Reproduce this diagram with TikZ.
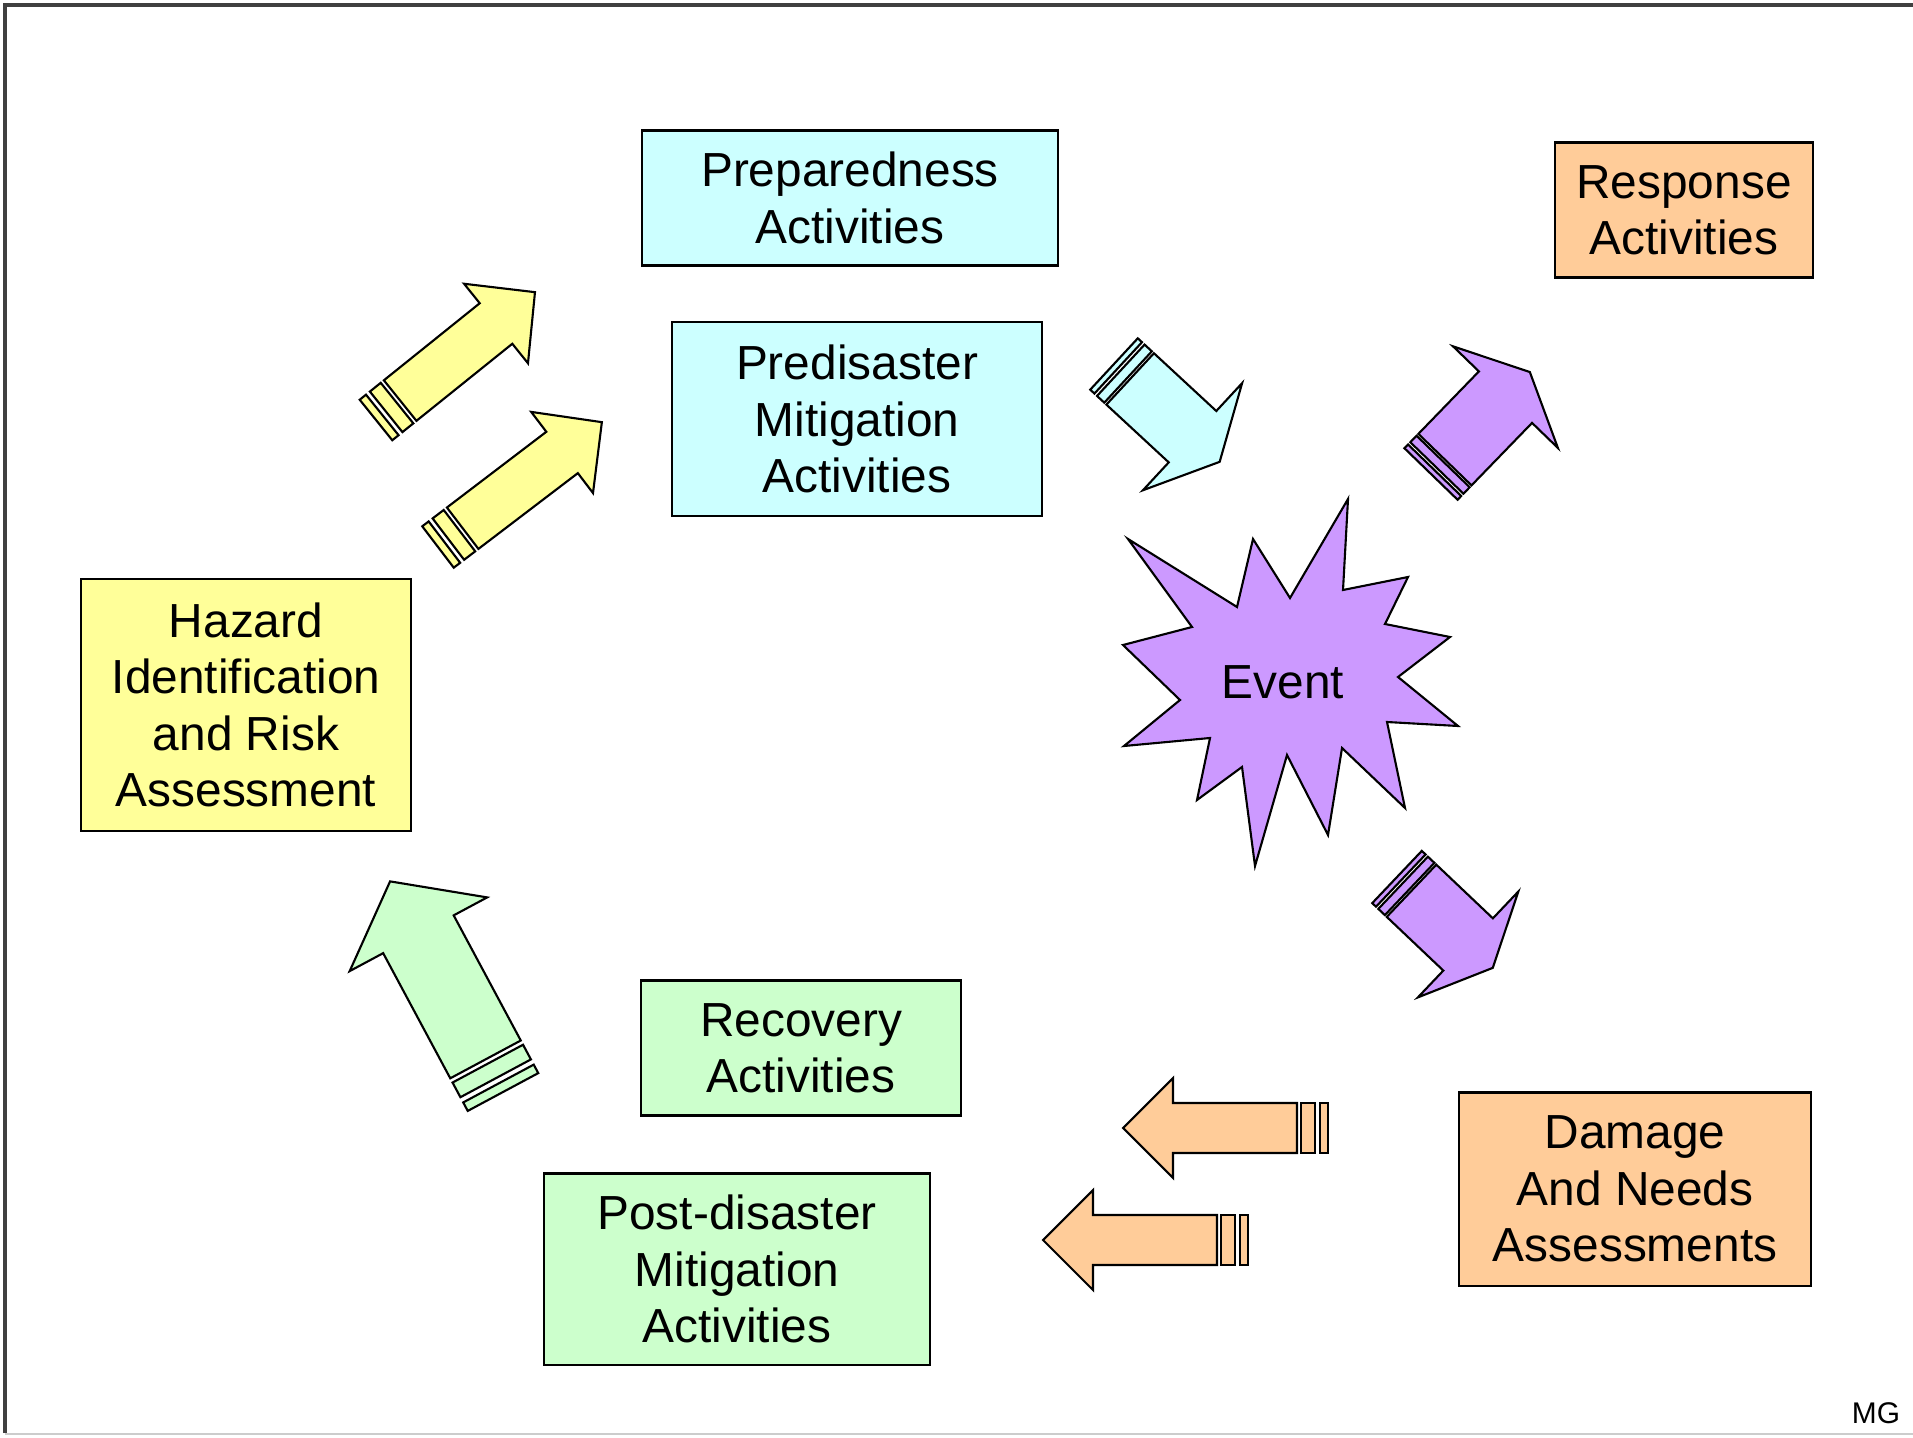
\documentclass[tikz,border=0pt]{standalone}
\usepackage{fontspec}
\setmainfont{Liberation Sans}
\definecolor{hazardyellow}{HTML}{FFFF99}
\definecolor{prepcyan}{HTML}{CCFFFF}
\definecolor{resporange}{HTML}{FFCC99}
\definecolor{recgreen}{HTML}{CCFFCC}
\definecolor{eventpurple}{HTML}{CC99FF}
\tikzset{
  activity/.style={draw, line width=0.6pt, align=center, inner sep=0pt,
    font=\fontsize{13.6}{16}\selectfont},
  shapeline/.style={draw=black, line width=0.6pt}
}
% striped block arrow: colour, tail, angle, length, shaft half, head half, head length, stripe zone
\newcommand{\stripedarrow}[8]{%
  \begin{scope}[shift={#2}, rotate=#3]
    \filldraw[shapeline, fill=#1] (#8,-#5) -- ({#4-#7},-#5) -- ({#4-#7},-#6) -- (#4,0)
      -- ({#4-#7},#6) -- ({#4-#7},#5) -- (#8,#5) -- cycle;
    \filldraw[shapeline, fill=#1] ({0.42*#8},-#5) rectangle ({0.87*#8},#5);
    \filldraw[shapeline, fill=#1] (0,-#5) rectangle ({0.26*#8},#5);
  \end{scope}}
\begin{document}
\begin{tikzpicture}[x=0.01cm, y=-0.01cm]
      \useasboundingbox (0,0) rectangle (1913,1437);
      \fill[white] (0,0) rectangle (1913,1437);
      \draw[line width=1.2pt, black!75] (5,1433) -- (5,5) -- (1913,5);
      \draw[line width=0.8pt, black!20] (5,1434) -- (1913,1434);
      % activity boxes
      \node[activity, fill=prepcyan, minimum width=4.16cm, minimum height=1.35cm]
        (prep) at (850,198) {Preparedness\\Activities};
      \node[activity, fill=prepcyan, minimum width=3.69cm, minimum height=1.93cm]
        (premit) at (857,419) {Predisaster\\Mitigation\\Activities};
      \node[activity, fill=resporange, minimum width=2.58cm, minimum height=1.35cm]
        (resp) at (1684,210) {Response\\Activities};
      \node[activity, fill=hazardyellow, minimum width=3.30cm, minimum height=2.51cm]
        (hazard) at (246,705) {Hazard\\Identification\\and Risk\\Assessment};
      \node[activity, fill=recgreen, minimum width=3.19cm, minimum height=1.35cm]
        (recov) at (801,1048) {Recovery\\Activities};
      \node[activity, fill=recgreen, minimum width=3.85cm, minimum height=1.91cm]
        (postmit) at (737,1269) {Post-disaster\\Mitigation\\Activities};
      \node[activity, fill=resporange, minimum width=3.52cm, minimum height=1.93cm]
        (damage) at (1635,1189) {Damage\\And Needs\\Assessments};
      % event burst
      \filldraw[shapeline, fill=eventpurple]
        (1348,499) -- (1343,590) -- (1408,577) -- (1385,624) -- (1450,637)
        -- (1398,677) -- (1458,726) -- (1387,722) -- (1405,808) -- (1342,748)
        -- (1328,835) -- (1287,755) -- (1255,866) -- (1242,767) -- (1197,800)
        -- (1210,738) -- (1124,746) -- (1180,700) -- (1123,645) -- (1192,627)
        -- (1128,539) -- (1237,607) -- (1253,539) -- (1290,598) -- cycle;
      \node[font=\fontsize{13.6}{16}\selectfont] (event) at (1283,682) {Event};
      % block arrows
      \stripedarrow{hazardyellow}{(376,420)}{38.8}{204}{26}{51}{50}{31}
      \stripedarrow{hazardyellow}{(438,547)}{37.3}{206}{26}{51}{50}{31}
      \stripedarrow{prepcyan}{(1114,364)}{-42.8}{144}{35}{73}{37}{22}
      \stripedarrow{eventpurple}{(1431,474)}{45.9}{142}{37}{73}{35}{20}
      \stripedarrow{eventpurple}{(1397,877)}{-43.5}{132}{36}{73}{34}{20}
      \stripedarrow{resporange}{(1328,1128)}{180}{205}{25}{50}{50}{31}
      \stripedarrow{resporange}{(1248,1240)}{180}{205}{25}{50}{50}{31}
      \stripedarrow{recgreen}{(503,1092)}{118.2}{239}{40}{78}{60}{37}
      \node[font=\fontsize{8.5}{10}\selectfont] (mg) at (1876,1413) {MG};
    \end{tikzpicture}
\end{document}
